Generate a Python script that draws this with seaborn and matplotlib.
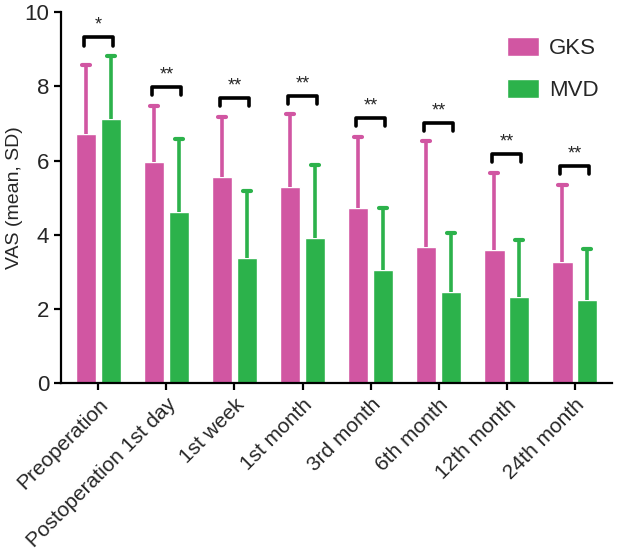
"""VAS scores (mean, SD) over follow-up: GKS vs MVD grouped bar chart."""
import matplotlib

matplotlib.use("Agg")

import matplotlib.pyplot as plt
import numpy as np
import pandas as pd
import seaborn as sns

timepoints = ["Preoperation", "Postoperation 1st day", "1st week", "1st month",
              "3rd month", "6th month", "12th month", "24th month"]
groups = ["GKS", "MVD"]
gks_mean = [6.72, 5.95, 5.55, 5.28, 4.72, 3.67, 3.58, 3.28]
gks_sd = [1.86, 1.53, 1.63, 1.97, 1.93, 2.85, 2.09, 2.07]
mvd_mean = [7.12, 4.62, 3.38, 3.92, 3.05, 2.47, 2.33, 2.23]
mvd_sd = [1.70, 1.95, 1.80, 1.96, 1.68, 1.58, 1.52, 1.40]
significance = ["*", "**", "**", "**", "**", "**", "**", "**"]

palette = {"GKS": "#D156A2", "MVD": "#2CB24B"}

df = pd.DataFrame({
    "time": timepoints * 2,
    "group": ["GKS"] * len(timepoints) + ["MVD"] * len(timepoints),
    "vas": gks_mean + mvd_mean,
    "sd": gks_sd + mvd_sd,
})

sns.set_style("ticks")
plt.rcParams["font.family"] = ["Liberation Sans", "DejaVu Sans"]

fig = plt.figure(figsize=(6.28, 5.57), dpi=100)
ax = fig.add_axes([0.097, 0.312, 0.878, 0.666])

sns.barplot(data=df, x="time", y="vas", hue="group", order=timepoints,
            hue_order=groups, palette=palette, errorbar=None,
            width=0.73, gap=0.18, saturation=1, ax=ax)

# upward-only error bars (line + top cap), at the seaborn bar centres
bar_x = {}
for container, g in zip(ax.containers, groups):
    sub = df[df["group"] == g].set_index("time").loc[timepoints]
    xs = np.array([p.get_x() + p.get_width() / 2 for p in container.patches])
    bar_x[g] = xs
    tops = sub["vas"].values + sub["sd"].values
    ax.vlines(xs, sub["vas"].values, tops, color=palette[g], lw=2.6, zorder=1)
    ax.hlines(tops, xs - 0.06, xs + 0.06, color=palette[g], lw=3,
              capstyle="round", zorder=1)

# significance brackets
tops = np.maximum(np.array(gks_mean) + gks_sd, np.array(mvd_mean) + mvd_sd)
for i, lab in enumerate(significance):
    x0, x1 = bar_x["GKS"][i] - 0.03, bar_x["MVD"][i] + 0.03
    y = tops[i] + 0.5
    ax.plot([x0, x0, x1, x1], [y - 0.22, y, y, y - 0.22], color="black",
            lw=2.6, solid_joinstyle="round", solid_capstyle="round", zorder=3)
    ax.text((x0 + x1) / 2, y + 0.1, lab, ha="center", va="bottom", fontsize=13)

ax.set_ylim(0, 10)
ax.set_yticks([0, 2, 4, 6, 8, 10])
ax.set_xlim(-0.55, len(timepoints) - 0.45)
ax.set_xlabel("")
ax.set_ylabel("VAS (mean, SD)", fontsize=14, labelpad=1)
ax.tick_params(axis="both", width=1.6, length=5, color="black")
ax.tick_params(axis="x", labelsize=15)
ax.tick_params(axis="y", labelsize=16)
plt.setp(ax.get_xticklabels(), rotation=45, ha="right", rotation_mode="anchor")
for side in ["left", "bottom"]:
    ax.spines[side].set_linewidth(1.6)
    ax.spines[side].set_color("black")
sns.despine(ax=ax)

ax.legend(loc="upper right", frameon=False, fontsize=16, handlelength=1.45,
          handleheight=0.95, labelspacing=0.9, handletextpad=0.45,
          borderaxespad=0.2, bbox_to_anchor=(1.0, 0.97))

fig.savefig("out.png", dpi=100)
plt.close(fig)
